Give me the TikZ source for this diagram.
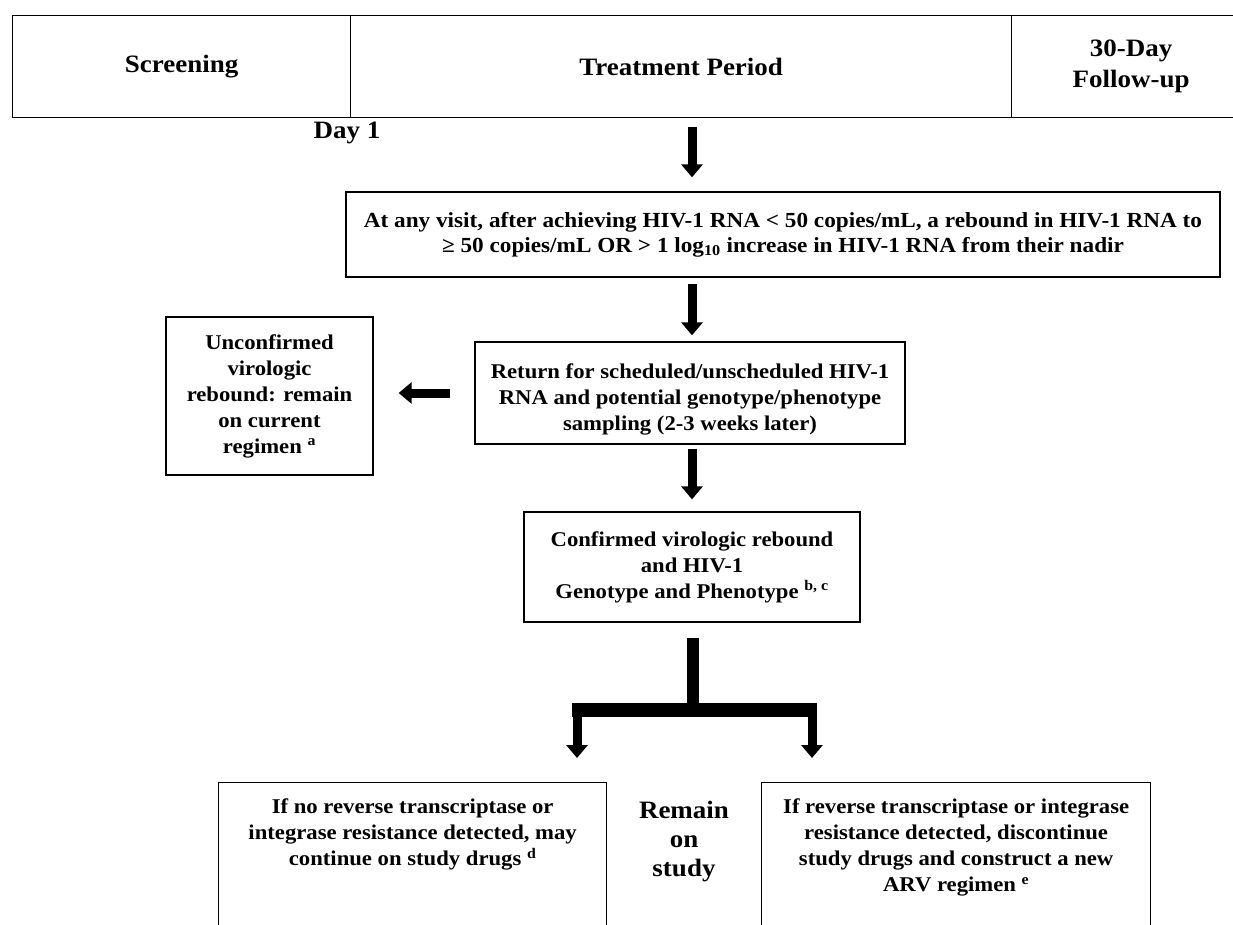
\documentclass[tikz,border=0pt]{standalone}
\usepackage{fontspec}
\setmainfont{Liberation Serif}[FakeStretch=1.08]
\usetikzlibrary{arrows.meta,positioning}

\begin{document}
\begin{tikzpicture}[
  x=1pt, y=-1pt,
  cell/.style={draw, line width=1.3pt, inner sep=0pt, anchor=north west, minimum height=102pt, align=center, font=\bfseries\fontsize{25}{31}\selectfont},
  box/.style={draw, line width=1.3pt, inner sep=0pt, align=center, font=\bfseries\fontsize{21}{26}\selectfont},
  txt/.style={inner sep=0pt, align=center, font=\bfseries\fontsize{21}{26}\selectfont},
  fat/.style={line width=9pt, -{Triangle[length=13pt, width=21pt]}},
]
\useasboundingbox (0,0) rectangle (1233,925);
\clip (0,0) rectangle (1233,925);

% Header row
\node[cell, minimum width=338pt] (screen) at (12,15) {Screening};
\node[cell, minimum width=661pt] (treat) at (350,15) {Treatment Period};
\node[cell, minimum width=239pt] (follow) at (1011,15) {30-Day\\Follow-up};
\node[font=\bfseries\fontsize{25}{31}\selectfont] (day1) at (347,133) {Day 1};

% Flow boxes
\node[box, minimum width=874pt, minimum height=85pt, font=\bfseries\fontsize{21.5}{25}\selectfont] (rebound) at (783,234.5)
  {At any visit, after achieving HIV-1 RNA < 50 copies/mL, a rebound in HIV-1 RNA to\\
   ≥ 50 copies/mL OR > 1 log\textsubscript{10} increase in HIV-1 RNA from their nadir};
\node[box, minimum width=430pt, minimum height=102pt] (retest) at (690,393) {};
\node[txt] (retestTxt) at ([yshift=-6pt]retest.center)
  {Return for scheduled/unscheduled HIV-1\\RNA and potential genotype/phenotype\\sampling (2-3 weeks later)};
\node[box, minimum width=207pt, minimum height=158pt] (unconf) at (269.5,396)
  {Unconfirmed\\virologic\\rebound: remain\\on current\\regimen \textsuperscript{a}};
\node[box, minimum width=336pt, minimum height=110pt] (confirm) at (692,567)
  {Confirmed virologic rebound\\and HIV-1\\Genotype and Phenotype \textsuperscript{b, c}};

% Outcomes
\node[box, anchor=north west, minimum width=388pt, minimum height=160pt] (nores) at (218,782) {};
\node[txt, anchor=north] (noresTxt) at ([yshift=-17pt]nores.north)
  {If no reverse transcriptase or\\integrase resistance detected, may\\continue on study drugs \textsuperscript{d}};
\node[box, anchor=north west, minimum width=389pt, minimum height=160pt] (res) at (761,782) {};
\node[txt, anchor=north] (resTxt) at ([yshift=-17pt]res.north)
  {If reverse transcriptase or integrase\\resistance detected, discontinue\\study drugs and construct a new\\ARV regimen \textsuperscript{e}};
\node[txt, font=\bfseries\fontsize{25}{29}\selectfont] (stay) at (684,842) {Remain\\on\\study};

% Arrows
\coordinate (a1) at (692,127);
\coordinate (fork) at (693,710);
\coordinate (forkL) at (577,710);
\coordinate (forkR) at (812,710);
\draw[fat] (a1) -- ([yshift=14pt]rebound.north -| a1);
\draw[fat] ([yshift=-6pt]rebound.south -| a1) -- ([yshift=6pt]retest.north -| a1);
\draw[fat] ([xshift=-24pt]retest.west) -- ([xshift=25pt]unconf.east |- retest.west);
\draw[fat] ([yshift=-4pt]retest.south -| a1) -- ([yshift=12pt]confirm.north -| a1);
\draw[line width=12pt] ([yshift=-15pt]confirm.south -| fork) -- (fork);
\draw[line width=14pt] ([xshift=-5pt]forkL) -- ([xshift=5pt]forkR);
\draw[fat] (forkL) -- ([yshift=24pt]nores.north -| forkL);
\draw[fat] (forkR) -- ([yshift=24pt]res.north -| forkR);
\end{tikzpicture}
\end{document}
